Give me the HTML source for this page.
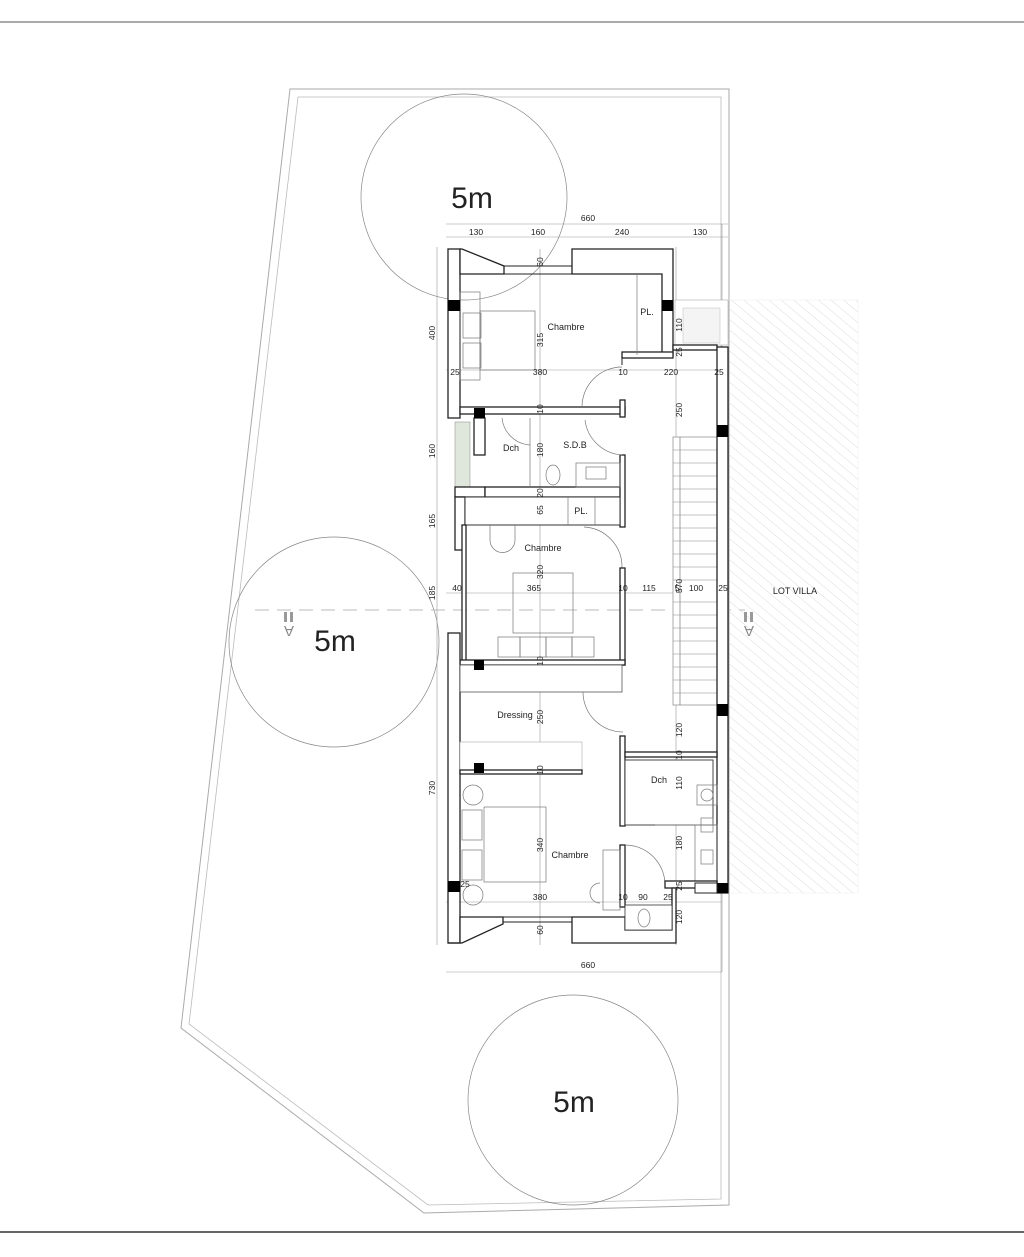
<!DOCTYPE html>
<html><head><meta charset="utf-8"><style>
html,body{margin:0;padding:0;background:#fff;}
svg{display:block;}
text{font-family:"Liberation Sans",sans-serif;fill:#222;}
.d{font-size:8.5px;}
.r{font-size:8.5px;}
.w{fill:#fff;stroke:#222;stroke-width:1.3;}
.t{fill:none;stroke:#999;stroke-width:0.6;}
.f{fill:none;stroke:#777;stroke-width:0.7;}
.k{fill:#000;}
</style></head><body>
<svg width="1024" height="1257" viewBox="0 0 1024 1257" xmlns="http://www.w3.org/2000/svg">
<defs>
<pattern id="h" width="8" height="8" patternUnits="userSpaceOnUse" patternTransform="rotate(-50)">
<line x1="0" y1="0" x2="0" y2="8" stroke="#ccc" stroke-width="0.7"/>
</pattern>
</defs>
<rect width="1024" height="1257" fill="#fff"/>
<line x1="0" y1="22" x2="1024" y2="22" stroke="#555" stroke-width="1"/>
<line x1="0" y1="1232" x2="1024" y2="1232" stroke="#666" stroke-width="2"/>

<polygon points="290,89 729,89 729,1205 424,1213 181,1028" fill="none" stroke="#aaa" stroke-width="1"/>
<polygon points="298,97 721,97 721,1199 428,1205 189,1024" fill="none" stroke="#bbb" stroke-width="0.8"/>

<rect x="728" y="300" width="130" height="593" fill="url(#h)" stroke="#eee" stroke-width="0.5"/>
<text x="795" y="594" font-size="9" text-anchor="middle">LOT VILLA</text>

<circle cx="464" cy="197" r="103" fill="none" stroke="#888" stroke-width="0.7"/>
<circle cx="334" cy="642" r="105" fill="none" stroke="#888" stroke-width="0.7"/>
<circle cx="573" cy="1100" r="105" fill="none" stroke="#888" stroke-width="0.7"/>
<text x="472" y="208" font-size="30" text-anchor="middle">5m</text>
<text x="335" y="651" font-size="30" text-anchor="middle">5m</text>
<text x="574" y="1112" font-size="30" text-anchor="middle">5m</text>

<line x1="255" y1="610" x2="745" y2="610" stroke="#bbb" stroke-width="1" stroke-dasharray="14,8"/>
<text transform="translate(289,626) rotate(180)" font-size="15" text-anchor="middle" style="fill:#888">A</text>
<rect x="284" y="612" width="3" height="10" fill="#999"/><rect x="290" y="612" width="3" height="10" fill="#999"/>
<text transform="translate(749,626) rotate(180)" font-size="15" text-anchor="middle" style="fill:#888">A</text>
<rect x="744" y="612" width="3" height="10" fill="#999"/><rect x="750" y="612" width="3" height="10" fill="#999"/>

<line x1="446" y1="224" x2="728" y2="224" class="t"/>
<line x1="446" y1="237" x2="728" y2="237" class="t"/>
<text x="588" y="221" class="d" text-anchor="middle">660</text>
<text x="476" y="235" class="d" text-anchor="middle">130</text>
<text x="538" y="235" class="d" text-anchor="middle">160</text>
<text x="622" y="235" class="d" text-anchor="middle">240</text>
<text x="700" y="235" class="d" text-anchor="middle">130</text>
<line x1="446" y1="972" x2="722" y2="972" class="t"/>
<text x="588" y="968" class="d" text-anchor="middle">660</text>
<line x1="437" y1="247" x2="437" y2="945" class="t"/>
<line x1="540" y1="249" x2="540" y2="945" class="t"/>
<line x1="676" y1="247" x2="676" y2="945" class="t"/>
<line x1="722" y1="224" x2="722" y2="972" class="t"/>
<line x1="446" y1="370" x2="722" y2="370" class="t"/>
<line x1="446" y1="593" x2="722" y2="593" class="t"/>
<line x1="446" y1="902" x2="722" y2="902" class="t"/>

<g class="r">
<text transform="translate(435,333) rotate(-90)" text-anchor="middle">400</text>
<text transform="translate(435,451) rotate(-90)" text-anchor="middle">160</text>
<text transform="translate(435,521) rotate(-90)" text-anchor="middle">165</text>
<text transform="translate(435,593) rotate(-90)" text-anchor="middle">185</text>
<text transform="translate(435,788) rotate(-90)" text-anchor="middle">730</text>
</g>

<rect x="673" y="437" width="44" height="268" fill="#fff" stroke="#888" stroke-width="0.7"/>
<line x1="680" y1="437" x2="680" y2="705" class="f"/>
<g stroke="#888" stroke-width="0.6">
<line x1="673" y1="450" x2="717" y2="450"/><line x1="673" y1="463" x2="717" y2="463"/><line x1="673" y1="476" x2="717" y2="476"/><line x1="673" y1="489" x2="717" y2="489"/><line x1="673" y1="502" x2="717" y2="502"/><line x1="673" y1="515" x2="717" y2="515"/><line x1="673" y1="528" x2="717" y2="528"/><line x1="673" y1="541" x2="717" y2="541"/><line x1="673" y1="554" x2="717" y2="554"/><line x1="673" y1="567" x2="717" y2="567"/><line x1="673" y1="580" x2="717" y2="580"/><line x1="673" y1="602" x2="717" y2="602"/><line x1="673" y1="615" x2="717" y2="615"/><line x1="673" y1="628" x2="717" y2="628"/><line x1="673" y1="641" x2="717" y2="641"/><line x1="673" y1="654" x2="717" y2="654"/><line x1="673" y1="667" x2="717" y2="667"/><line x1="673" y1="680" x2="717" y2="680"/><line x1="673" y1="693" x2="717" y2="693"/>
</g>

<rect x="675" y="300" width="53" height="45" fill="#fff" stroke="#aaa" stroke-width="0.6"/>
<rect x="683" y="308" width="37" height="35" fill="#f4f4f4" stroke="#bbb" stroke-width="0.5"/>

<rect class="w" x="448" y="249" width="12" height="169"/>
<polygon class="w" points="460,249 462,249 504,266 504,274 460,274"/>
<line x1="504" y1="266" x2="572" y2="266" stroke="#222" stroke-width="1"/>
<line x1="504" y1="274" x2="572" y2="274" stroke="#222" stroke-width="1"/>
<polygon class="w" points="572,249 673,249 673,355 662,355 662,274 572,274"/>
<rect class="w" x="622" y="352" width="51" height="6"/>
<rect class="w" x="673" y="345" width="44" height="5"/>
<rect class="w" x="717" y="347" width="11" height="546"/>
<rect class="w" x="460" y="407" width="165" height="7"/>
<rect class="w" x="620" y="400" width="5" height="17"/>
<line x1="622" y1="358" x2="622" y2="365" stroke="#222"/>
<path d="M582,407 A40,40 0 0 1 622,367" class="f"/>
<line x1="637" y1="274" x2="637" y2="355" class="f"/>
<rect x="460" y="292" width="20" height="88" class="f"/>
<rect x="463" y="313" width="18" height="25" class="f"/><rect x="463" y="343" width="18" height="25" class="f"/>
<rect x="480" y="311" width="55" height="59" class="f"/>

<rect class="w" x="474" y="418" width="11" height="37"/>
<rect x="455" y="422" width="15" height="65" fill="#dfe7dc" stroke="#999" stroke-width="0.6"/>
<rect class="w" x="455" y="487" width="30" height="10"/>
<rect class="w" x="455" y="497" width="10" height="53"/>
<rect class="w" x="485" y="487" width="137" height="10"/>
<line x1="530" y1="418" x2="530" y2="487" class="f"/>
<path d="M502,418 A30,30 0 0 0 530,445" class="f"/>
<rect class="w" x="620" y="455" width="5" height="72"/>
<path d="M585,420 A40,40 0 0 0 622,455" class="f"/>
<rect x="576" y="463" width="44" height="24" class="f"/>
<rect x="586" y="467" width="20" height="12" class="f"/>
<ellipse cx="553" cy="475" rx="7" ry="10" class="f"/>
<rect x="465" y="497" width="155" height="28" fill="#fff" stroke="#333" stroke-width="1"/>
<line x1="568" y1="497" x2="568" y2="525" class="f"/><line x1="595" y1="497" x2="595" y2="525" class="f"/>
<path d="M490,525 L490,540 A12,12 0 0 0 515,540 L515,525" class="f"/>
<path d="M584,527 A40,40 0 0 1 622,568" class="f"/>
<rect class="w" x="620" y="568" width="5" height="97"/>
<rect class="w" x="462" y="525" width="4" height="140"/>
<rect x="513" y="573" width="60" height="60" class="f"/>
<rect x="498" y="637" width="22" height="20" class="f"/><rect x="520" y="637" width="26" height="20" class="f"/><rect x="546" y="637" width="26" height="20" class="f"/><rect x="572" y="637" width="22" height="20" class="f"/>
<rect class="w" x="460" y="660" width="165" height="5"/>
<rect class="w" x="448" y="633" width="12" height="310"/>
<rect x="460" y="665" width="162" height="27" fill="#fff" stroke="#555" stroke-width="0.8"/>
<path d="M583,692 A40,40 0 0 0 623,732" class="f"/>
<rect class="w" x="620" y="736" width="5" height="90"/>
<rect class="w" x="625" y="752" width="92" height="5"/>
<rect x="460" y="742" width="122" height="28" fill="#fff" stroke="#aaa" stroke-width="0.6"/>
<rect class="w" x="460" y="770" width="122" height="4"/>
<rect x="625" y="760" width="88" height="65" fill="#fff" stroke="#333" stroke-width="0.9"/>
<line x1="655" y1="825" x2="717" y2="825" class="f"/>
<rect x="697" y="785" width="20" height="20" class="f"/><circle cx="707" cy="795" r="6" class="f"/>
<rect x="695" y="825" width="22" height="58" class="f"/>
<rect x="701" y="818" width="12" height="14" class="f"/><rect x="701" y="850" width="12" height="14" class="f"/>
<rect class="w" x="620" y="845" width="5" height="62"/>
<path d="M625,845 A40,40 0 0 1 665,885" class="f"/>
<rect x="603" y="850" width="17" height="60" class="f"/>
<path d="M600,883 A10,10 0 0 0 600,903" class="f"/>
<rect class="w" x="665" y="881" width="52" height="7"/>
<polygon class="w" points="448,943 462,943 503,924 503,917 460,917 460,943"/>
<line x1="503" y1="917" x2="572" y2="917" stroke="#222"/>
<line x1="503" y1="922" x2="572" y2="922" stroke="#222"/>
<polygon class="w" points="572,917 625,917 625,930 672,930 672,888 676,888 676,943 572,943"/>
<rect x="625" y="905" width="47" height="25" fill="#fff" stroke="#333" stroke-width="0.8"/>
<ellipse cx="644" cy="918" rx="6" ry="9" class="f"/>
<rect x="717" y="883" width="11" height="10" class="k"/>
<rect x="695" y="883" width="22" height="10" fill="#fff" stroke="#222"/>
<circle cx="473" cy="795" r="10" class="f"/><circle cx="473" cy="895" r="10" class="f"/>
<rect x="462" y="810" width="20" height="30" class="f"/><rect x="462" y="850" width="20" height="30" class="f"/>
<rect x="484" y="807" width="62" height="75" class="f"/>

<rect class="k" x="448" y="300" width="12" height="11"/>
<rect class="k" x="662" y="300" width="11" height="11"/>
<rect class="k" x="474" y="408" width="11" height="10"/>
<rect class="k" x="717" y="425" width="11" height="12"/>
<rect class="k" x="474" y="660" width="10" height="10"/>
<rect class="k" x="474" y="763" width="10" height="10"/>
<rect class="k" x="717" y="704" width="11" height="12"/>
<rect class="k" x="448" y="881" width="12" height="11"/>

<g font-size="9">
<text x="566" y="330" text-anchor="middle">Chambre</text>
<text x="647" y="315" text-anchor="middle">PL.</text>
<text x="575" y="448" text-anchor="middle">S.D.B</text>
<text x="511" y="451" text-anchor="middle">Dch</text>
<text x="581" y="514" text-anchor="middle">PL.</text>
<text x="543" y="551" text-anchor="middle">Chambre</text>
<text x="515" y="718" text-anchor="middle">Dressing</text>
<text x="659" y="783" text-anchor="middle">Dch</text>
<text x="570" y="858" text-anchor="middle">Chambre</text>
</g>
<g class="d" text-anchor="middle">
<text x="455" y="375">25</text><text x="540" y="375">380</text><text x="623" y="375">10</text><text x="671" y="375">220</text><text x="719" y="375">25</text>
<text x="457" y="591">40</text><text x="534" y="591">365</text><text x="623" y="591">10</text><text x="649" y="591">115</text><text x="677" y="591">5</text><text x="696" y="591">100</text><text x="723" y="591">25</text>
<text x="465" y="887">25</text><text x="540" y="900">380</text><text x="623" y="900">10</text><text x="643" y="900">90</text><text x="668" y="900">25</text>
</g>
<g class="r" text-anchor="middle">
<text transform="translate(543,262) rotate(-90)">60</text>
<text transform="translate(543,340) rotate(-90)">315</text>
<text transform="translate(543,409) rotate(-90)">10</text>
<text transform="translate(543,450) rotate(-90)">180</text>
<text transform="translate(543,493) rotate(-90)">20</text>
<text transform="translate(543,510) rotate(-90)">65</text>
<text transform="translate(543,572) rotate(-90)">320</text>
<text transform="translate(543,661) rotate(-90)">10</text>
<text transform="translate(543,717) rotate(-90)">250</text>
<text transform="translate(543,770) rotate(-90)">10</text>
<text transform="translate(543,845) rotate(-90)">340</text>
<text transform="translate(543,930) rotate(-90)">60</text>
<text transform="translate(682,325) rotate(-90)">110</text>
<text transform="translate(682,352) rotate(-90)">25</text>
<text transform="translate(682,410) rotate(-90)">250</text>
<text transform="translate(682,586) rotate(-90)">570</text>
<text transform="translate(682,730) rotate(-90)">120</text>
<text transform="translate(682,755) rotate(-90)">10</text>
<text transform="translate(682,783) rotate(-90)">110</text>
<text transform="translate(682,843) rotate(-90)">180</text>
<text transform="translate(682,886) rotate(-90)">25</text>
<text transform="translate(682,917) rotate(-90)">120</text>
</g>
</svg>
</body></html>
